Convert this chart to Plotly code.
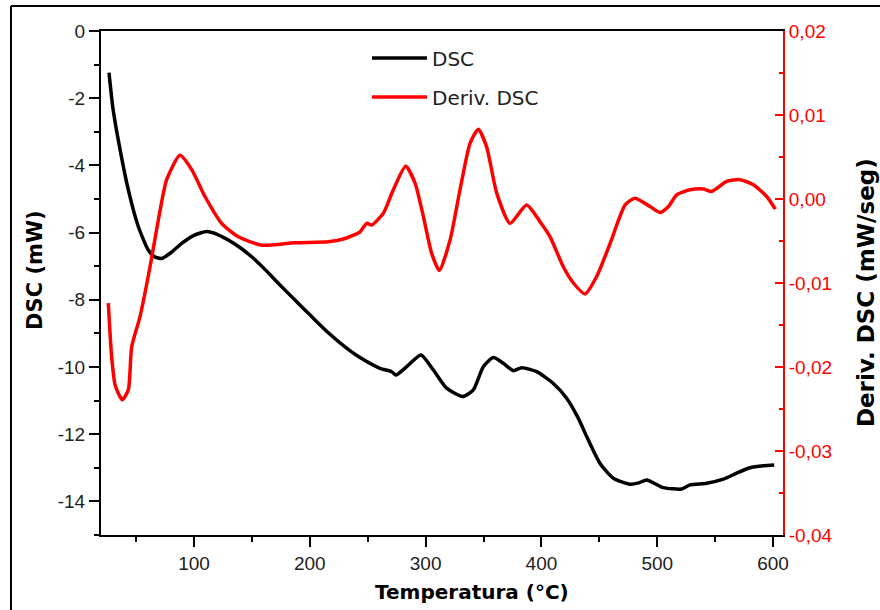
import plotly.graph_objects as go

# DSC curve (temperature in °C, DSC in mW)
dsc_T = [26.6, 30, 34.6, 43.3, 51.9, 60.5, 66, 72.1, 80, 89.4, 100, 111, 120, 129.6, 140, 149.8, 160,
         172.8, 187, 201.6, 216, 230.4, 243.4, 260.6, 270.7, 274.4, 283.7, 296, 306.7, 318.2, 332,
         341.2, 349.8, 358.5, 367.1, 375.7, 383, 395.9, 410.3, 421.8, 431.9, 439.1, 450.6, 462.1,
         476.5, 484, 490.9, 505.3, 521.1, 528.3, 542.7, 557.1, 568.6, 580.1, 592, 601]
dsc_v = [-1.24, -2.3, -3.24, -4.73, -5.82, -6.52, -6.72, -6.77, -6.6, -6.32, -6.08, -5.97, -6.05,
         -6.22, -6.45, -6.72, -7.05, -7.51, -8.0, -8.50, -8.98, -9.40, -9.72, -10.04, -10.14,
         -10.24, -9.99, -9.64, -10.09, -10.63, -10.88, -10.68, -9.99, -9.72, -9.89, -10.11,
         -10.02, -10.14, -10.49, -10.93, -11.53, -12.07, -12.87, -13.31, -13.49, -13.45, -13.36,
         -13.59, -13.63, -13.51, -13.46, -13.34, -13.16, -13.0, -12.94, -12.92]

# Derivative of DSC (mW/seg)
der_T = [26, 28.9, 32, 38.1, 43.3, 46.2, 53.4, 62, 69.2, 76.4, 87.9, 98, 109.5, 123.9, 138.3, 158.5,
         187.2, 216, 230.4, 243.4, 249.1, 253.4, 263.5, 272.1, 282.8, 290.9, 298.1, 305.3, 311.9,
         321.1, 329.7, 338.3, 345.5, 352.7, 361.4, 372.9, 387.2, 398.8, 407.5, 419, 427.6, 437.7,
         447.8, 459.3, 472.3, 480.9, 493.8, 502.5, 509.7, 516.8, 528.3, 539.8, 547, 560, 571.5,
         583, 594.5, 602]
der_v = [-0.0124, -0.0188, -0.0222, -0.0239, -0.0227, -0.0176, -0.0140, -0.0081, -0.0025, 0.0023,
         0.0052, 0.0035, 0.0003, -0.0029, -0.0045, -0.0055, -0.0052, -0.0051, -0.0047, -0.0039,
         -0.0029, -0.0031, -0.0017, 0.0011, 0.0039, 0.0019, -0.0021, -0.0065, -0.0085, -0.0049,
         0.0011, 0.0066, 0.0083, 0.0062, 0.0007, -0.0029, -0.0007, -0.0027, -0.0045, -0.0081,
         -0.0100, -0.0113, -0.0092, -0.0053, -0.0007, 0.0001, -0.0009, -0.0016, -0.0009, 0.0005,
         0.0011, 0.0012, 0.0009, 0.0021, 0.0023, 0.0017, 0.0003, -0.0012]

x_ticks = [100, 200, 300, 400, 500, 600]
x_minor = [50, 150, 250, 350, 450, 550]
y1_ticks = [0, -2, -4, -6, -8, -10, -12, -14]
y1_labels = ["0", "-2", "-4", "-6", "-8", "-10", "-12", "-14"]
y1_minor = [-1, -3, -5, -7, -9, -11, -13, -15]
y2_ticks = [0.02, 0.01, 0.0, -0.01, -0.02, -0.03, -0.04]
y2_labels = ["0,02", "0,01", "0,00", "-0,01", "-0,02", "-0,03", "-0,04"]
y2_minor = [0.015, 0.005, -0.005, -0.015, -0.025, -0.035]

fig = go.Figure()
fig.add_trace(go.Scatter(x=dsc_T, y=dsc_v, mode="lines", name="DSC", legendgroup="a",
                         line=dict(color="black", width=3.5, shape="spline", smoothing=0.6)))
fig.add_trace(go.Scatter(x=der_T, y=der_v, mode="lines", name="Deriv. DSC", legendgroup="b",
                         yaxis="y2",
                         line=dict(color="red", width=3.5, shape="spline", smoothing=0.6)))

tickfont = dict(family="Liberation Sans, Arial", size=19, color="#222")

fig.update_layout(
    width=880, height=610,
    margin=dict(l=101, r=97, t=31, b=75),
    paper_bgcolor="white", plot_bgcolor="white",
    showlegend=True,
    legend=dict(x=0.39, y=0.985, xanchor="left", yanchor="top",
                font=dict(family="DejaVu Sans", size=20, color="#222"),
                bgcolor="rgba(0,0,0,0)", tracegroupgap=10, traceorder="grouped",
                itemwidth=55),
    xaxis=dict(range=[19.7, 608.6], showgrid=False, zeroline=False,
               showline=True, linecolor="black", linewidth=2, mirror=True,
               ticks="outside", ticklen=10, tickwidth=2, tickcolor="black",
               tickvals=x_ticks, tickfont=tickfont,
               minor=dict(ticks="outside", ticklen=5, tickwidth=2, tickcolor="black", tickvals=x_minor)),
    yaxis=dict(range=[-15, 0], showgrid=False, zeroline=False,
               showline=True, linecolor="black", linewidth=2,
               ticks="outside", ticklen=10, tickwidth=2, tickcolor="black",
               tickvals=y1_ticks, ticktext=y1_labels, tickfont=tickfont,
               minor=dict(ticks="outside", ticklen=5, tickwidth=2, tickcolor="black", tickvals=y1_minor)),
    yaxis2=dict(range=[-0.04, 0.02], overlaying="y", side="right", showgrid=False, zeroline=False,
                showline=True, linecolor="red", linewidth=2,
                ticks="inside", ticklen=8, tickwidth=2, tickcolor="red",
                tickvals=y2_ticks, ticktext=y2_labels,
                tickfont=dict(family="Liberation Sans, Arial", size=19, color="red"),
                minor=dict(ticks="inside", ticklen=4, tickwidth=2, tickcolor="red", tickvals=y2_minor)),
)

# axis titles
fig.add_annotation(text="<b>Temperatura (°C)</b>", xref="paper", yref="paper", x=0.544, y=-0.113,
                   xanchor="center", yanchor="middle", showarrow=False,
                   font=dict(family="DejaVu Sans", size=20, color="black"))
fig.add_annotation(text="<b>DSC (mW)</b>", xref="paper", yref="paper", x=-0.0968, y=0.526,
                   xanchor="center", yanchor="middle", showarrow=False, textangle=-90,
                   font=dict(family="DejaVu Sans", size=21, color="black"))
fig.add_annotation(text="<b>Deriv. DSC (mW/seg)</b>", xref="paper", yref="paper", x=1.1217, y=0.482,
                   xanchor="center", yanchor="middle", showarrow=False, textangle=-90,
                   font=dict(family="DejaVu Sans", size=23, color="black"))

# outer frame of the original figure (partially visible)
fig.add_shape(type="line", xref="paper", yref="paper", x0=-0.132, x1=1.2, y0=1.0496, y1=1.0496,
              line=dict(color="black", width=2))
fig.add_shape(type="line", xref="paper", yref="paper", x0=-0.132, x1=-0.132, y0=1.0496, y1=-0.2,
              line=dict(color="black", width=2))

fig.write_html("out.html")
